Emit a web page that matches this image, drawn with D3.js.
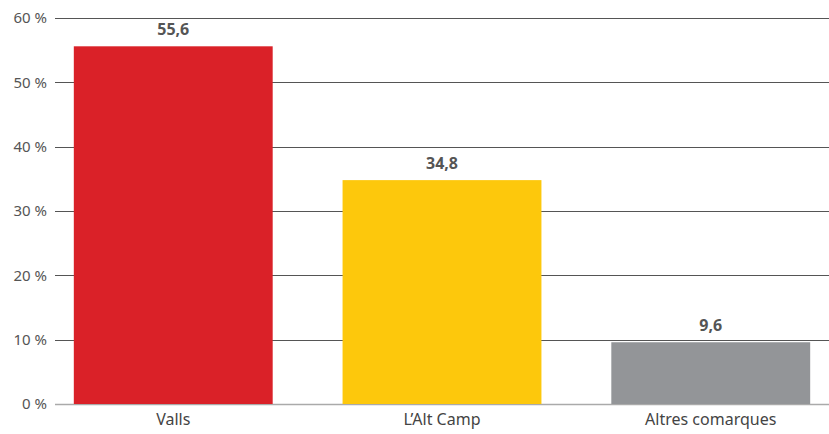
<!DOCTYPE html>
<html>
<head>
<meta charset="utf-8">
<script src="https://cdn.jsdelivr.net/npm/d3@7"></script>
<style>
  body { margin: 0; background: #fff; }
  svg { display: block; font-family: "Source Sans Pro", "Noto Sans", sans-serif; }
</style>
</head>
<body>
<svg id="chart" width="829" height="434"></svg>
<script>
const categories = ["Valls", "L\u2019Alt Camp", "Altres comarques"];
const values = [55.6, 34.8, 9.6];
const valueLabels = ["55,6", "34,8", "9,6"];
const barColors = ["#da2128", "#fdc80c", "#939598"];
const yTicks = [0, 10, 20, 30, 40, 50, 60];

const svg = d3.select("#chart");
const margin = { top: 18, right: 0, bottom: 30, left: 55 };
const width = 829;
const height = 434;

const x = d3.scaleBand()
  .domain(categories)
  .range([margin.left, width - margin.right])
  .paddingInner(0.26)
  .paddingOuter(0.07);

const y = d3.scaleLinear()
  .domain([0, 60])
  .range([height - margin.bottom, margin.top]);

// gridlines
svg.append("g")
  .selectAll("line")
  .data(yTicks)
  .join("line")
  .attr("x1", margin.left)
  .attr("x2", width - margin.right)
  .attr("y1", d => Math.round(y(d)) + 0.5)
  .attr("y2", d => Math.round(y(d)) + 0.5)
  .attr("stroke", d => d === 0 ? "#aaaaaa" : "#555555")
  .attr("stroke-width", d => d === 0 ? 1.5 : 1);

// y labels
svg.append("g")
  .selectAll("text")
  .data(yTicks)
  .join("text")
  .attr("x", 47)
  .attr("y", d => y(d))
  .attr("dy", "0.35em")
  .attr("text-anchor", "end")
  .attr("fill", "#555")
  .style("font-size", "15px")
  .text(d => `${d} %`);

// bars
svg.append("g")
  .selectAll("rect")
  .data(values)
  .join("rect")
  .attr("x", (d, i) => x(categories[i]))
  .attr("y", d => y(d))
  .attr("width", x.bandwidth())
  .attr("height", d => y(0) - y(d))
  .attr("fill", (d, i) => barColors[i]);

// value labels
svg.append("g")
  .selectAll("text")
  .data(values)
  .join("text")
  .attr("x", (d, i) => x(categories[i]) + x.bandwidth() / 2)
  .attr("y", d => y(d) - 11)
  .attr("text-anchor", "middle")
  .attr("fill", "#555")
  .style("font-size", "16px")
  .style("font-weight", "bold")
  .text((d, i) => valueLabels[i]);

// category labels
svg.append("g")
  .selectAll("text")
  .data(categories)
  .join("text")
  .attr("x", d => x(d) + x.bandwidth() / 2)
  .attr("y", height - 9)
  .attr("text-anchor", "middle")
  .attr("fill", "#444")
  .style("font-size", "16px")
  .text(d => d);
</script>
</body>
</html>
